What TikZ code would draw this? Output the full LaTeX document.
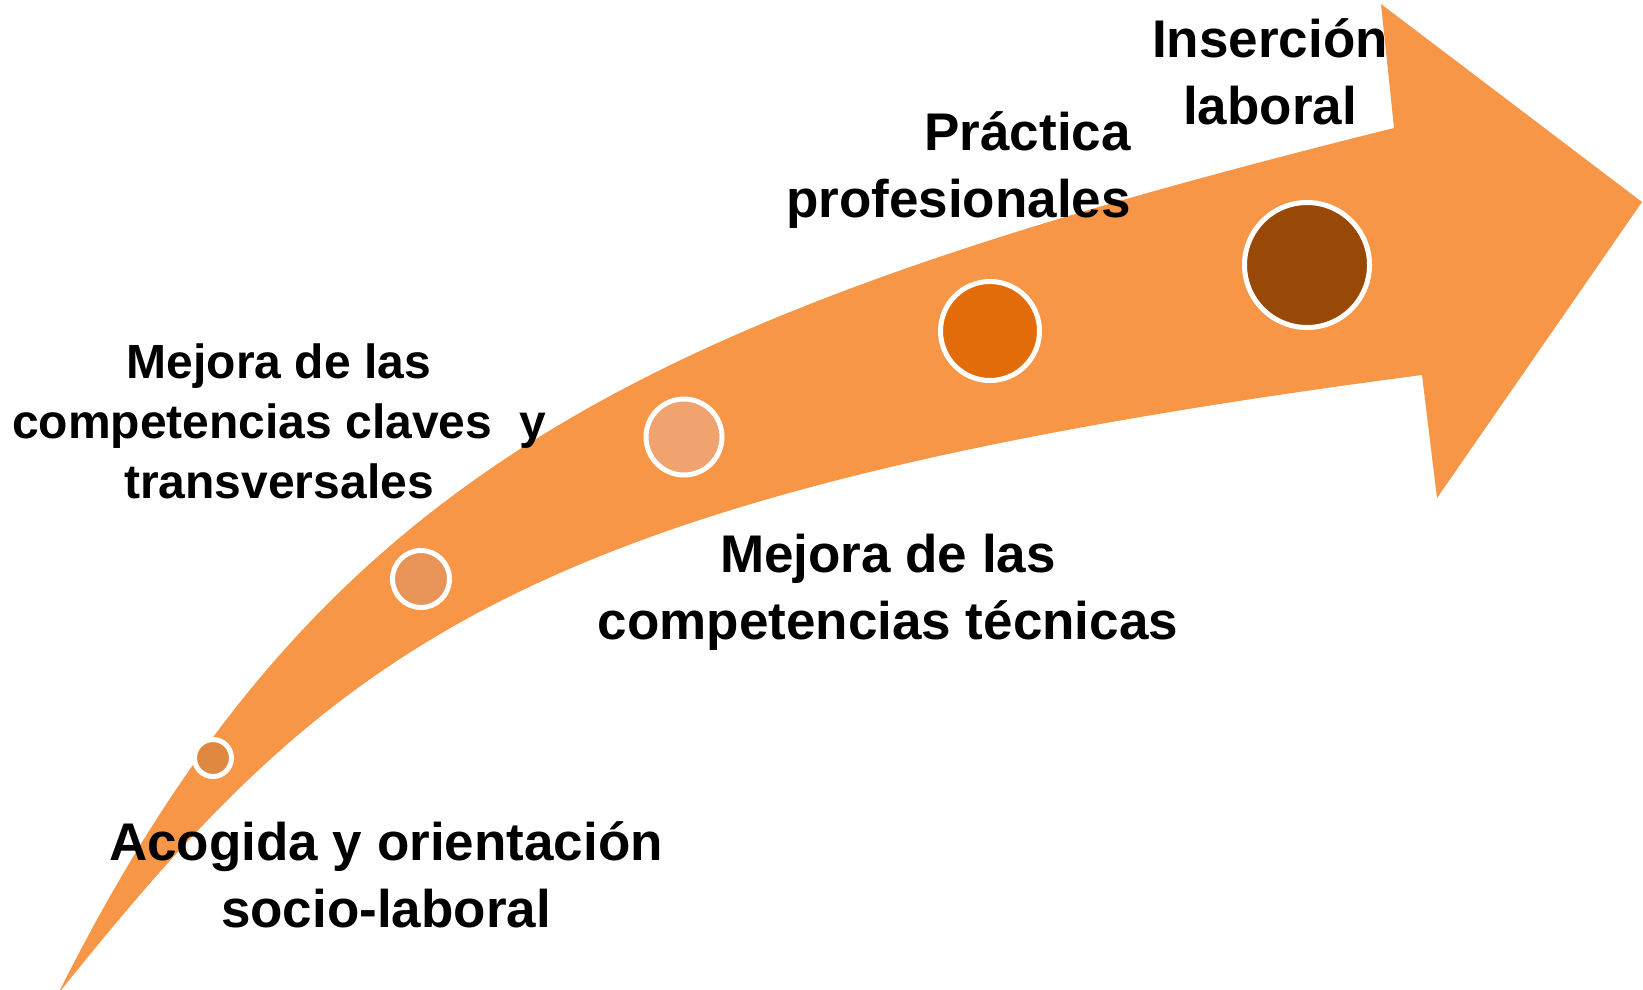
\documentclass[tikz,border=0pt]{standalone}
\usepackage{fontspec}
\setmainfont{Liberation Sans}
\definecolor{arroworange}{HTML}{F79646}
\definecolor{dotA}{HTML}{DF8940}
\definecolor{dotB}{HTML}{E89358}
\definecolor{dotC}{HTML}{F0A26F}
\definecolor{dotD}{HTML}{E36C0A}
\definecolor{dotE}{HTML}{984807}
\begin{document}
\begin{tikzpicture}[x=1pt,y=-1pt,
  dot/.style={circle, draw=white, line width=5pt, inner sep=0pt},
  lbl/.style={font=\bfseries\fontsize{53}{67}\selectfont, align=center, inner sep=0pt},
  lblsmall/.style={font=\bfseries\fontsize{48}{60}\selectfont, align=center, inner sep=0pt}]
\useasboundingbox (0,0) rectangle (1643,990);
% curved arrow
\fill[arroworange]
  (58,994) .. controls (320,470) and (644,315) .. (1394,128)
  -- (1381,4) -- (1642,202) -- (1437,498) -- (1422,375)
  .. controls (522,493) and (338,644) .. (58,994)
  -- cycle;
% stage dots
\node[dot, fill=dotA, minimum size=37pt] (s1) at (213,758) {};
\node[dot, fill=dotB, minimum size=57pt] (s2) at (421,579) {};
\node[dot, fill=dotC, minimum size=76pt] (s3) at (684,437) {};
\node[dot, fill=dotD, minimum size=99pt] (s4) at (990,331) {};
\node[dot, fill=dotE, minimum size=125pt] (s5) at (1307,265) {};
% labels (anchor = baseline of the last line)
\node[lbl, anchor=base] (t1) at (386,927) {Acogida y orientación\\socio-laboral};
\node[lblsmall, anchor=base] (t2) at (279,498) {Mejora de las\\competencias claves\ \ y\\transversales};
\node[lbl, anchor=base] (t3) at (888,639) {Mejora de las\\competencias técnicas};
\node[lbl, align=right, anchor=base east] (t4) at (1131,217) {Práctica\\profesionales};
\node[lbl, anchor=base] (t5) at (1270,124) {Inserción\\laboral};
\end{tikzpicture}
\end{document}
